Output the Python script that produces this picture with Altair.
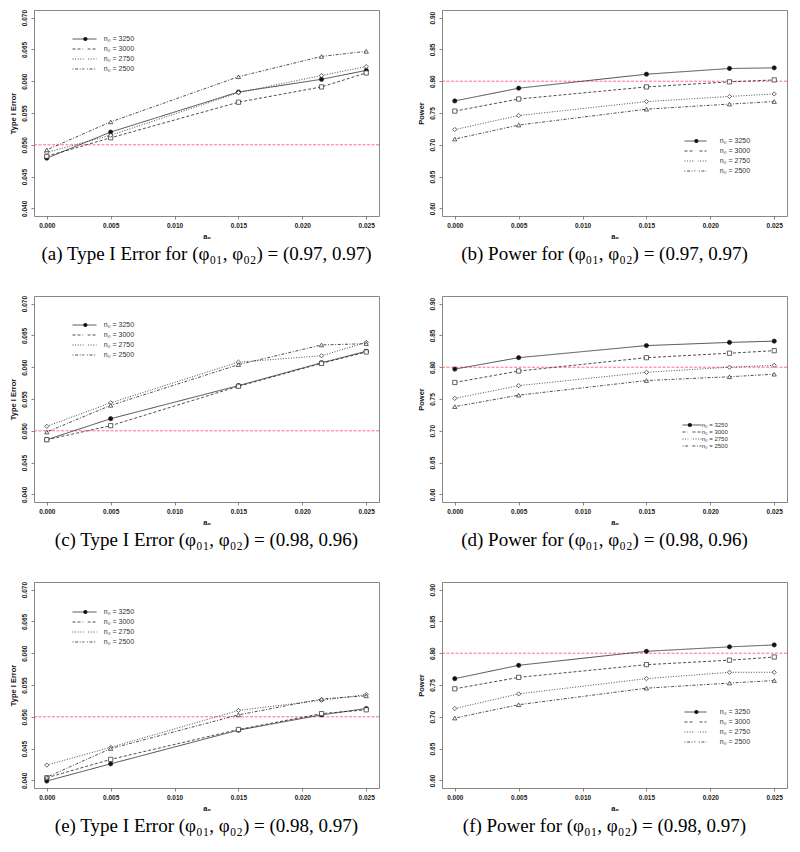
import altair as alt
import pandas as pd

# ---------------- data ----------------
A0 = [0.0, 0.005, 0.015, 0.0215, 0.025]
N0 = ["3250", "3000", "2750", "2500"]
X_TICKS = [0.0, 0.005, 0.010, 0.015, 0.020, 0.025]
T1_TICKS = [0.040, 0.045, 0.050, 0.055, 0.060, 0.065, 0.070]
PW_TICKS = [0.60, 0.65, 0.70, 0.75, 0.80, 0.85, 0.90]

# (a) Type I error, (0.97, 0.97)
A_3250 = [0.0479, 0.0520, 0.0583, 0.0603, 0.0617]
A_3000 = [0.0482, 0.0511, 0.0567, 0.0591, 0.0613]
A_2750 = [0.0488, 0.0515, 0.0582, 0.0609, 0.0623]
A_2500 = [0.0492, 0.0536, 0.0607, 0.0639, 0.0647]
# (b) Power, (0.97, 0.97)
B_3250 = [0.769, 0.789, 0.811, 0.820, 0.821]
B_3000 = [0.753, 0.772, 0.791, 0.799, 0.802]
B_2750 = [0.724, 0.746, 0.768, 0.776, 0.780]
B_2500 = [0.709, 0.731, 0.756, 0.764, 0.768]
# (c) Type I error, (0.98, 0.96)
C_3250 = [0.0486, 0.0519, 0.0571, 0.0607, 0.0625]
C_3000 = [0.0486, 0.0508, 0.0570, 0.0606, 0.0624]
C_2750 = [0.0507, 0.0544, 0.0608, 0.0618, 0.0639]
C_2500 = [0.0498, 0.0540, 0.0604, 0.0635, 0.0637]
# (d) Power, (0.98, 0.96)
D_3250 = [0.797, 0.815, 0.834, 0.839, 0.841]
D_3000 = [0.776, 0.794, 0.815, 0.822, 0.826]
D_2750 = [0.751, 0.771, 0.792, 0.800, 0.803]
D_2500 = [0.738, 0.756, 0.779, 0.785, 0.789]
# (e) Type I error, (0.98, 0.97)
E_3250 = [0.0399, 0.0426, 0.0479, 0.0503, 0.0513]
E_3000 = [0.0404, 0.0433, 0.0480, 0.0505, 0.0511]
E_2750 = [0.0424, 0.0452, 0.0510, 0.0526, 0.0535]
E_2500 = [0.0405, 0.0450, 0.0503, 0.0528, 0.0533]
# (f) Power, (0.98, 0.97)
F_3250 = [0.760, 0.781, 0.803, 0.810, 0.813]
F_3000 = [0.744, 0.762, 0.782, 0.789, 0.794]
F_2750 = [0.713, 0.736, 0.760, 0.770, 0.770]
F_2500 = [0.698, 0.719, 0.745, 0.753, 0.757]

CAPTIONS = [
    "(a) Type I Error for (φ₀₁, φ₀₂) = (0.97, 0.97)",
    "(b) Power for (φ₀₁, φ₀₂) = (0.97, 0.97)",
    "(c) Type I Error (φ₀₁, φ₀₂) = (0.98, 0.96)",
    "(d) Power for (φ₀₁, φ₀₂) = (0.98, 0.96)",
    "(e) Type I Error (φ₀₁, φ₀₂) = (0.98, 0.97)",
    "(f) Power for (φ₀₁, φ₀₂) = (0.98, 0.97)",
]

# ---------------- style ----------------
W, H = 345, 206
LABELS = [f"n₀ = {n}" for n in N0]
DASHES = [[1, 0], [3, 2], [1, 1.6], [1, 1.6, 3, 1.6]]
SHAPES = ["circle", "square", "diamond", "triangle-up"]
FILLS = ["#111111", "white", "white", "white"]
INK = "#222222"
REFC = "#ff5c7a"
SANS = "Liberation Sans"


def panel(vals, kind, ref, caption, leg, right):
    rows = []
    for n, lab, ys in zip(N0, LABELS, vals):
        for a, y in zip(A0, ys):
            rows.append({"a0": a, "y": y, "n0": lab, "n0d": n})
    df = pd.DataFrame(rows)

    if kind == "t1":
        dom, ticks, fmt, ytitle = [0.0388, 0.0712], T1_TICKS, ".3f", "Type I Error"
    else:
        dom, ticks, fmt, ytitle = [0.588, 0.912], PW_TICKS, ".2f", "Power"

    x = alt.X("a0:Q", scale=alt.Scale(domain=[-0.001, 0.026], nice=False, zero=False),
              axis=alt.Axis(values=X_TICKS, format=".3f", title="a₀",
                            labelPadding=3, titlePadding=4))
    y = alt.Y("y:Q", scale=alt.Scale(domain=dom, nice=False, zero=False),
              axis=alt.Axis(values=ticks, format=fmt, title=ytitle, labelAngle=-90,
                            labelAlign="center", labelBaseline="bottom",
                            labelPadding=4, titlePadding=4))

    lx, llen, mc, tx, ry, pitch, fs = leg
    clip = pitch
    ssize = 18
    s = ssize ** 0.5

    dash_leg = alt.Legend(orient="none", legendX=lx, legendY=ry - clip / 2, title=None,
                          symbolType="stroke", symbolSize=llen * llen,
                          symbolStrokeColor=INK, symbolStrokeWidth=0.8,
                          labelExpr="''", labelFontSize=fs, clipHeight=clip,
                          rowPadding=0, padding=0, labelOffset=0)
    shape_leg = alt.Legend(orient="none", legendX=mc - s / 2, legendY=ry - clip / 2,
                           title=None, symbolSize=ssize, symbolStrokeColor=INK,
                           symbolStrokeWidth=0.7, symbolOpacity=1, clipHeight=clip,
                           rowPadding=0, padding=0, labelFont=SANS, labelFontSize=fs,
                           labelColor="#333333", labelOffset=tx - mc - s / 2)

    line = alt.Chart(df).mark_line(color=INK, strokeWidth=0.8).encode(
        x=x, y=y,
        strokeDash=alt.StrokeDash("n0d:N", scale=alt.Scale(domain=N0, range=DASHES),
                                  legend=dash_leg),
    )
    pts = alt.Chart(df).mark_point(filled=False, stroke=INK, strokeWidth=0.7, size=ssize,
                                   opacity=1).encode(
        x=x, y=y,
        shape=alt.Shape("n0:N", scale=alt.Scale(domain=LABELS, range=SHAPES),
                        legend=shape_leg),
        fill=alt.Fill("n0:N", scale=alt.Scale(domain=LABELS, range=FILLS),
                      legend=shape_leg),
    )
    rule = alt.Chart(pd.DataFrame({"y": [ref]})).mark_rule(
        color=REFC, strokeWidth=0.9, strokeDash=[3, 1.5]).encode(y=y)

    return alt.layer(rule, line, pts).properties(
        width=W, height=H,
        title=alt.TitleParams(text=caption, orient="bottom", font="Liberation Serif",
                              fontSize=19, fontWeight="normal", color="black",
                              offset=5, anchor="middle", dx=(-10 if right else 0)),
    )


LEG_L = (38, 24, 50, 67, 29, 9.5, 7)
LEG_R = (242, 22, 253, 275, 131, 9.5, 7)
LEG_D = (240, 19, 247, 258, 129, 7, 6)
LEG_E = (38, 24, 50, 67, 30, 9.5, 7)
LEG_F = (242, 22, 253, 275, 130, 9.5, 7)

panels = [
    panel([A_3250, A_3000, A_2750, A_2500], "t1", 0.050, CAPTIONS[0], LEG_L, False),
    panel([B_3250, B_3000, B_2750, B_2500], "pw", 0.80, CAPTIONS[1], LEG_R, True),
    panel([C_3250, C_3000, C_2750, C_2500], "t1", 0.050, CAPTIONS[2], LEG_L, False),
    panel([D_3250, D_3000, D_2750, D_2500], "pw", 0.80, CAPTIONS[3], LEG_D, True),
    panel([E_3250, E_3000, E_2750, E_2500], "t1", 0.050, CAPTIONS[4], LEG_E, False),
    panel([F_3250, F_3000, F_2750, F_2500], "pw", 0.80, CAPTIONS[5], LEG_F, True),
]

chart = alt.concat(*panels, columns=2, spacing={"row": 29, "column": 36}).resolve_scale(
    strokeDash="independent", shape="independent", fill="independent"
).resolve_legend(
    strokeDash="independent", shape="independent", fill="independent"
).properties(padding=0).configure_view(
    stroke="#888888", strokeWidth=1
).configure_axis(
    domain=False, grid=False, tickColor="#555555", tickSize=3, tickWidth=0.7,
    labelFont=SANS, labelFontSize=6.5, labelFontWeight="bold", labelColor="#222222",
    titleFont=SANS, titleFontSize=7.5, titleFontWeight="bold", titleColor="#111111",
)

chart.save("out.html", embed_options={"renderer": "svg", "actions": False})
